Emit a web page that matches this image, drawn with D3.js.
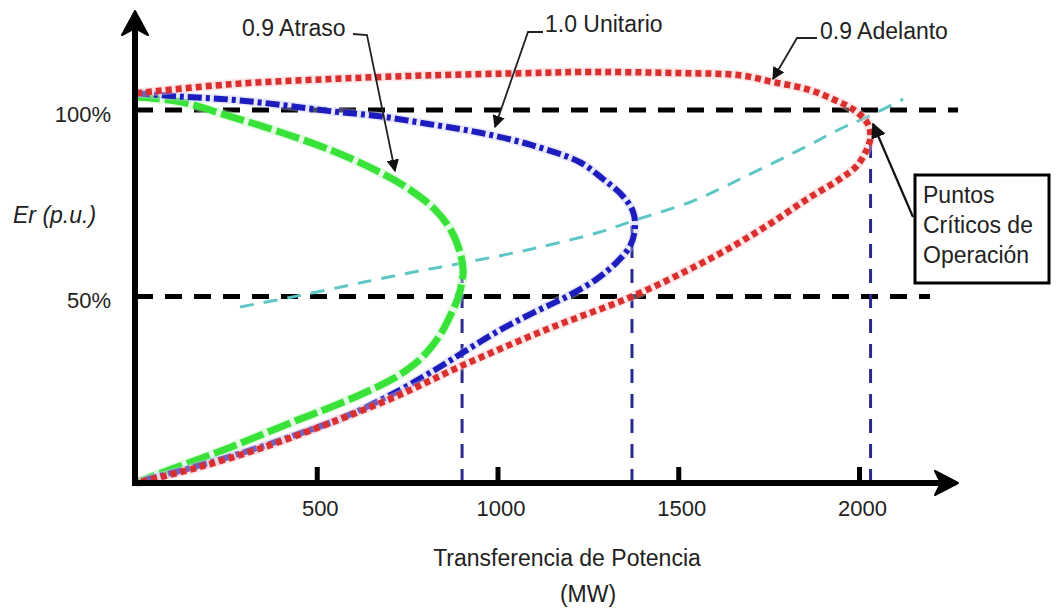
<!DOCTYPE html>
<html>
<head>
<meta charset="utf-8">
<script src="https://cdn.jsdelivr.net/npm/d3@7"></script>
<style>
  html, body { margin: 0; padding: 0; background: #fff; }
  svg { display: block; font-family: "Liberation Sans", Arial, sans-serif; }
</style>
</head>
<body>
<svg id="chart" width="1057" height="610"></svg>
<script>
// Potencia transferida (MW) y tensión en el extremo receptor (p.u.)
// para cada factor de potencia de la carga.
const atrasoP = [0, 122, 260, 398, 545, 660, 752, 825, 874, 899, 905, 892, 870, 843, 813, 772, 712, 628, 530, 445, 351, 260, 169, 75, 0];
const atrasoV = [1.035, 1.022, 0.983, 0.941, 0.890, 0.840, 0.790, 0.735, 0.673, 0.609, 0.566, 0.500, 0.450, 0.400, 0.360, 0.320, 0.280, 0.240, 0.200, 0.168, 0.131, 0.095, 0.062, 0.029, 0];

const unitarioP = [0, 122, 260, 398, 537, 675, 813, 952, 1090, 1228, 1292, 1347, 1375, 1380, 1367, 1331, 1275, 1192, 1098, 1007, 916, 830, 722, 584, 445, 307, 169, 30, 0];
const unitarioV = [1.045, 1.036, 1.028, 1.014, 0.997, 0.983, 0.962, 0.939, 0.907, 0.860, 0.815, 0.769, 0.727, 0.681, 0.636, 0.593, 0.547, 0.500, 0.456, 0.410, 0.357, 0.305, 0.245, 0.180, 0.130, 0.085, 0.045, 0.009, 0];

const adelantoP = [0, 260, 537, 813, 1090, 1228, 1505, 1671, 1762, 1856, 1928, 1983, 2022, 2032, 2022, 1994, 1947, 1856, 1762, 1671, 1560, 1372, 1137, 905, 722, 537, 351, 169, 0];
const adelantoV = [1.045, 1.069, 1.083, 1.093, 1.099, 1.102, 1.099, 1.093, 1.075, 1.056, 1.029, 1.002, 0.967, 0.930, 0.895, 0.850, 0.815, 0.761, 0.700, 0.646, 0.587, 0.500, 0.412, 0.316, 0.233, 0.161, 0.095, 0.041, 0];

// Lugar geométrico de los puntos críticos
const criticoP = [288, 445, 628, 813, 905, 1098, 1284, 1375, 1541, 1671, 1856, 1947, 2022, 2122];
const criticoV = [0.472, 0.501, 0.538, 0.574, 0.590, 0.628, 0.673, 0.703, 0.756, 0.815, 0.903, 0.949, 0.981, 1.029];

// Puntas de las curvas (límite de transferencia)
const narizP = [902, 1372, 2032];
const narizV = [0.600, 0.690, 0.930];

const xTicks = [500, 1000, 1500, 2000];
const yRefValues = [1.0, 0.5];
const yRefLabels = ["100%", "50%"];

const svg = d3.select("#chart");
const x = d3.scaleLinear().domain([0, 2000]).range([136, 859]);
const y = d3.scaleLinear().domain([0, 1]).range([483, 110]);

const line = d3.line()
  .x(d => x(d[0]))
  .y(d => y(d[1]))
  .curve(d3.curveCatmullRom.alpha(0.5));

// Líneas de referencia al 100 % y al 50 %
svg.append("g").selectAll("line")
  .data(yRefValues)
  .join("line")
  .attr("x1", x(0))
  .attr("x2", (d, i) => i === 0 ? 958 : 930)
  .attr("y1", d => y(d))
  .attr("y2", d => y(d))
  .attr("stroke", "#000")
  .attr("stroke-width", 5)
  .attr("stroke-dasharray", "17,12");

// Curva de puntos críticos
svg.append("path")
  .datum(d3.zip(criticoP, criticoV))
  .attr("d", line)
  .attr("fill", "none")
  .attr("stroke", "#5ec6c6")
  .attr("stroke-width", 3)
  .attr("stroke-dasharray", "14,10");

// Verticales desde cada punta
svg.append("g").selectAll("line")
  .data(d3.zip(narizP, narizV))
  .join("line")
  .attr("x1", d => x(d[0]))
  .attr("x2", d => x(d[0]))
  .attr("y1", y(0))
  .attr("y2", d => y(d[1]))
  .attr("stroke", "#2a2a8e")
  .attr("stroke-width", 3)
  .attr("stroke-dasharray", "14,11");

// Curvas P-V
const curvas = [
  { p: atrasoP, v: atrasoV, color: "#38e238", halo: "#b8f5b8", width: 7, dash: "24,5" },
  { p: unitarioP, v: unitarioV, color: "#1d1dbd", halo: "#c4c4f2", width: 6, dash: "14,4,4,4" },
  { p: adelantoP, v: adelantoV, color: "#d92f2f", halo: "#f8c0c0", width: 6.5, dash: "6,4" }
];

const gCurvas = svg.append("g");
curvas.forEach(c => {
  const pts = d3.zip(c.p, c.v);
  gCurvas.append("path")
    .datum(pts)
    .attr("d", line)
    .attr("fill", "none")
    .attr("stroke", c.halo)
    .attr("stroke-width", c.width + 3)
    .attr("stroke-opacity", 0.4);
  gCurvas.append("path")
    .datum(pts)
    .attr("d", line)
    .attr("fill", "none")
    .attr("stroke", c.color)
    .attr("stroke-width", c.width)
    .attr("stroke-dasharray", c.dash);
});

// Ejes
const xAxis = d3.axisBottom(x)
  .tickValues(xTicks)
  .tickSize(-16)
  .tickPadding(17)
  .tickFormat(d3.format("d"));

const gx = svg.append("g")
  .attr("transform", `translate(0,${y(0)})`)
  .call(xAxis);
gx.select(".domain").remove();
gx.selectAll(".tick line").attr("stroke", "#000").attr("stroke-width", 5);
gx.selectAll(".tick text")
  .attr("fill", "#222")
  .attr("font-size", 22)
  .attr("dx", 3)
  .style("font-family", "'Liberation Sans', Arial, sans-serif");

const yAxis = d3.axisLeft(y)
  .tickValues(yRefValues)
  .tickSize(0)
  .tickPadding(25)
  .tickFormat((d, i) => yRefLabels[i]);

const gy = svg.append("g")
  .attr("transform", `translate(${x(0)},0)`)
  .call(yAxis);
gy.select(".domain").remove();
gy.selectAll(".tick text")
  .attr("fill", "#222")
  .attr("font-size", 22)
  .attr("dy", "0.5em")
  .style("font-family", "'Liberation Sans', Arial, sans-serif");

// Líneas de los ejes con punta de flecha
svg.append("line")
  .attr("x1", x(0) - 1).attr("x2", x(0) - 1)
  .attr("y1", y(0) + 3).attr("y2", 20)
  .attr("stroke", "#000").attr("stroke-width", 6);
svg.append("path")
  .attr("d", `M${x(0) - 1},11 L${x(0) - 14},35 L${x(0) - 1},28 L${x(0) + 12},35 Z`)
  .attr("fill", "#000").attr("stroke", "#000").attr("stroke-width", 2).attr("stroke-linejoin", "round");

svg.append("line")
  .attr("x1", x(0) - 4).attr("x2", 948)
  .attr("y1", y(0)).attr("y2", y(0))
  .attr("stroke", "#000").attr("stroke-width", 6);
svg.append("path")
  .attr("d", `M958,${y(0)} L935,${y(0) - 12} L941,${y(0)} L935,${y(0) + 12} Z`)
  .attr("fill", "#000").attr("stroke", "#000").attr("stroke-width", 2).attr("stroke-linejoin", "round");

// Títulos de ejes
svg.append("text")
  .attr("x", 13).attr("y", 223)
  .attr("font-size", 23)
  .attr("font-style", "italic")
  .attr("fill", "#222")
  .text("Er (p.u.)");

svg.append("text")
  .attr("x", 567).attr("y", 566)
  .attr("text-anchor", "middle")
  .attr("font-size", 23)
  .attr("fill", "#222")
  .text("Transferencia de Potencia");
svg.append("text")
  .attr("x", 588).attr("y", 602)
  .attr("text-anchor", "middle")
  .attr("font-size", 23)
  .attr("fill", "#222")
  .text("(MW)");

// Rótulos con línea guía
svg.append("defs").append("marker")
  .attr("id", "punta")
  .attr("viewBox", "0 0 10 10")
  .attr("refX", 9).attr("refY", 5)
  .attr("markerWidth", 7).attr("markerHeight", 7)
  .attr("markerUnits", "strokeWidth")
  .attr("orient", "auto")
  .append("path")
  .attr("d", "M0,0 L10,5 L0,10 Z")
  .attr("fill", "#111");

const rotulos = [
  { text: "0.9 Atraso", tx: 242, ty: 36, path: "M353,34 L367,35 L395,171" },
  { text: "1.0 Unitario", tx: 545, ty: 32, path: "M543,32 L528,32 L495,127" },
  { text: "0.9 Adelanto", tx: 820, ty: 39, path: "M817,38 L797,38 L773,79" }
];

rotulos.forEach(r => {
  svg.append("path")
    .attr("d", r.path)
    .attr("fill", "none")
    .attr("stroke", "#222")
    .attr("stroke-width", 1.8)
    .attr("marker-end", "url(#punta)");
  svg.append("text")
    .attr("x", r.tx).attr("y", r.ty)
    .attr("font-size", 23)
    .attr("fill", "#222")
    .text(r.text);
});

// Recuadro de puntos críticos
svg.append("path")
  .attr("d", "M913,217 L873,124")
  .attr("stroke", "#111")
  .attr("stroke-width", 2.2)
  .attr("marker-end", "url(#punta)");
svg.append("rect")
  .attr("x", 915).attr("y", 175)
  .attr("width", 134).attr("height", 108)
  .attr("fill", "#fff")
  .attr("stroke", "#000")
  .attr("stroke-width", 3);
const cuadro = svg.append("text")
  .attr("x", 923).attr("y", 203)
  .attr("font-size", 23)
  .attr("fill", "#222");
["Puntos", "Críticos de", "Operación"].forEach((t, i) => {
  cuadro.append("tspan")
    .attr("x", 923)
    .attr("dy", i === 0 ? 0 : 30)
    .text(t);
});
</script>
</body>
</html>
